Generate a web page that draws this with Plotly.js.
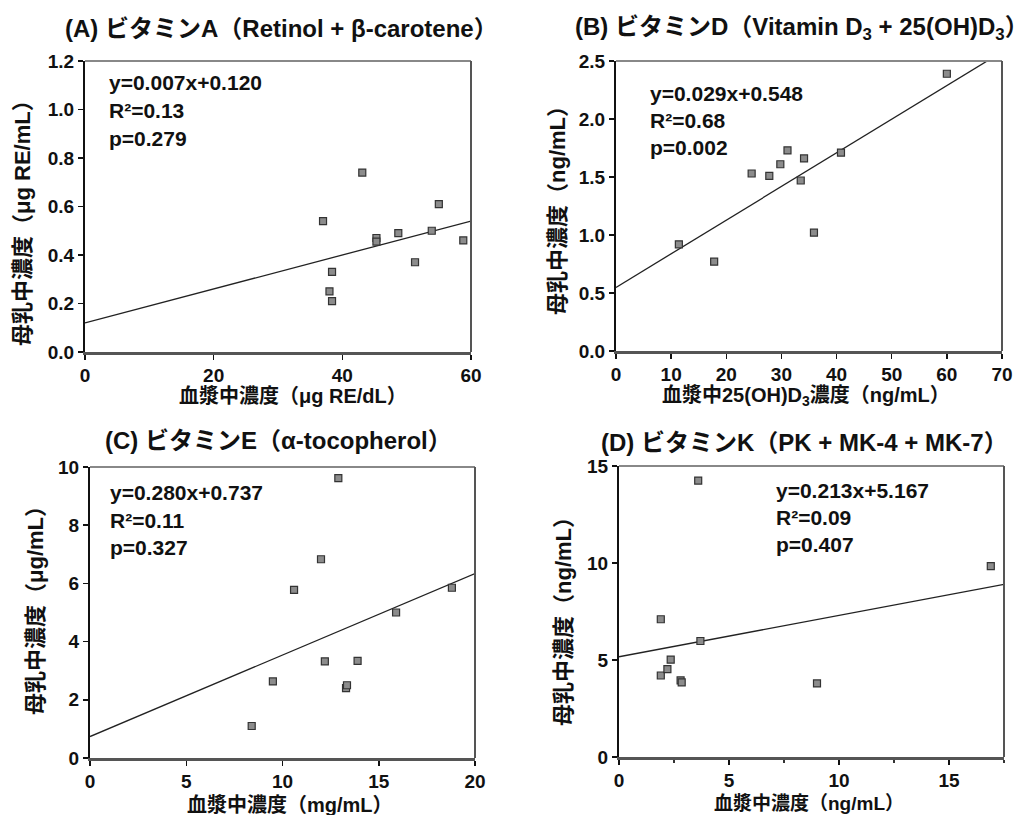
<!DOCTYPE html>
<html>
<head>
<meta charset="utf-8">
<script src="https://cdn.plot.ly/plotly-3.0.1.min.js"></script>
<style>html,body{margin:0;padding:0;background:#fff;}#chart{width:1033px;height:815px;}</style>
</head>
<body>
<div id="chart"></div>
<script>
// ---- Data ----
const panelTitles = [
  "(A) ビタミンA（Retinol + β-carotene）",
  "(B) ビタミンD（Vitamin D<sub>3</sub> + 25(OH)D<sub>3</sub>）",
  "(C) ビタミンE（α-tocopherol）",
  "(D) ビタミンK（PK + MK-4 + MK-7）"
];
const xTitles = ["血漿中濃度（μg RE/dL）", "血漿中25(OH)D<sub>3</sub>濃度（ng/mL）", "血漿中濃度（mg/mL）", "血漿中濃度（ng/mL）"];
const yTitles = ["母乳中濃度（μg RE/mL）", "母乳中濃度（ng/mL）", "母乳中濃度（μg/mL）", "母乳中濃度（ng/mL）"];

// Vitamin A
const aX = [37.0, 43.1, 55.0, 45.3, 45.3, 48.7, 53.9, 58.8, 51.3, 38.4, 38.0, 38.4];
const aY = [0.54, 0.74, 0.61, 0.47, 0.455, 0.49, 0.50, 0.46, 0.37, 0.33, 0.25, 0.21];
// Vitamin D
const bX = [11.4, 17.8, 24.6, 27.8, 29.8, 31.1, 33.5, 34.1, 35.9, 40.8, 60.0];
const bY = [0.92, 0.77, 1.53, 1.51, 1.61, 1.73, 1.47, 1.66, 1.02, 1.71, 2.39];
// Vitamin E
const cX = [8.4, 9.5, 10.6, 12.0, 12.2, 12.9, 13.3, 13.35, 13.9, 15.9, 18.8];
const cY = [1.10, 2.63, 5.78, 6.83, 3.32, 9.62, 2.40, 2.50, 3.34, 5.00, 5.85];
// Vitamin K
const dX = [1.9, 1.9, 2.2, 2.35, 2.8, 2.85, 3.6, 3.7, 9.0, 16.9];
const dY = [7.10, 4.20, 4.53, 5.02, 3.95, 3.85, 14.25, 5.98, 3.79, 9.84];

// Regression results printed on the chart
const slopes = [0.007, 0.029, 0.280, 0.213];
const intercepts = [0.120, 0.548, 0.737, 5.167];
const eqTexts = ["y=0.007x+0.120", "y=0.029x+0.548", "y=0.280x+0.737", "y=0.213x+5.167"];
const r2Texts = ["R²=0.13", "R²=0.68", "R²=0.11", "R²=0.09"];
const pTexts = ["p=0.279", "p=0.002", "p=0.327", "p=0.407"];

// Axis ranges / ticks
const xRanges = [[0, 60], [0, 70], [0, 20], [0, 17.5]];
const yRanges = [[0, 1.2], [0, 2.5], [0, 10], [0, 15]];
const xDticks = [20, 10, 5, 5];
const yDticks = [0.2, 0.5, 2, 5];
const yFormats = [".1f", ".1f", "d", "d"];

// ---- Layout helpers ----
const W = 1033, H = 815;
const px = v => v / W;
const py = v => 1 - v / H;
const FONT = "Liberation Sans, Arial, Noto Sans CJK JP, sans-serif";

// plot boxes in pixels [left, right, top, bottom]
const boxes = [[85, 471, 61, 352], [616, 1002, 61, 351], [90, 475, 467, 758], [619, 1004, 466, 757]];
const titlePos = [[281, 28], [802, 28], [278, 440], [804, 442]];
const xTitlePos = [[293, 396], [806, 396], [290, 805], [809, 803]];
const yTitlePos = [[22, 218], [557, 205], [35, 605], [563, 616]];
const statPos = [[107, [83, 111, 138]], [648, [93, 120, 147]], [108, [493, 520, 547]], [774, [490, 517, 544]]];

const xs = [aX, bX, cX, dX];
const ys = [aY, bY, cY, dY];

const traces = [];
const layout = {
  width: W, height: H,
  margin: {l: 0, r: 0, t: 0, b: 0},
  paper_bgcolor: "#fff", plot_bgcolor: "#fff",
  showlegend: false,
  font: {family: FONT, color: "#111", size: 18},
  annotations: [], shapes: []
};

function axisBase() {
  return {
    showgrid: false, zeroline: false, showline: true, linecolor: "#111", linewidth: 2,
    ticks: "outside", ticklen: 5, tickwidth: 1.5, tickcolor: "#111",
    tickfont: {family: FONT, size: 19, color: "#111", weight: 700},
    fixedrange: true
  };
}

for (let i = 0; i < 4; i++) {
  const sfx = i === 0 ? "" : String(i + 1);
  const xa = "x" + sfx, ya = "y" + sfx;
  const b = boxes[i];
  // regression line
  const lx = xRanges[i];
  traces.push({
    x: lx, y: lx.map(v => slopes[i] * v + intercepts[i]),
    xaxis: xa, yaxis: ya, mode: "lines", type: "scatter",
    line: {color: "#222", width: 1.3}, hoverinfo: "skip"
  });
  traces.push({
    x: xs[i], y: ys[i], xaxis: xa, yaxis: ya, mode: "markers", type: "scatter",
    marker: {symbol: "square", size: 7, color: "#8c8c8c", line: {color: "#333", width: 1.2}},
    cliponaxis: false
  });
  const xax = Object.assign(axisBase(), {
    domain: [px(b[0]), px(b[1])], anchor: ya, range: xRanges[i], dtick: xDticks[i], tick0: 0,
    linecolor: "#555", linewidth: 2.5
  });
  if (i === 3) xax.minor = {dtick: 2.5, ticks: "outside", ticklen: 3, tickwidth: 1.5, tickcolor: "#333"};
  layout["xaxis" + sfx] = xax;
  layout["yaxis" + sfx] = Object.assign(axisBase(), {
    domain: [py(b[3]), py(b[2])], anchor: xa, range: yRanges[i], dtick: yDticks[i], tick0: 0,
    tickformat: yFormats[i]
  });
  // top and right frame lines
  layout.shapes.push({type: "line", xref: xa + " domain", yref: ya + " domain", x0: 0, x1: 1, y0: 1, y1: 1, line: {color: "#888", width: 1.8}});
  layout.shapes.push({type: "line", xref: xa + " domain", yref: ya + " domain", x0: 1, x1: 1, y0: 0, y1: 1, line: {color: "#555", width: 2}});
  // panel title
  layout.annotations.push({
    text: "<b>" + panelTitles[i] + "</b>", xref: "paper", yref: "paper",
    x: px(titlePos[i][0]), y: py(titlePos[i][1]), xanchor: "center", yanchor: "middle",
    showarrow: false, font: {family: FONT, size: 24, color: "#111"}
  });
  // axis titles
  layout.annotations.push({
    text: "<b>" + xTitles[i] + "</b>", xref: "paper", yref: "paper",
    x: px(xTitlePos[i][0]), y: py(xTitlePos[i][1]), xanchor: "center", yanchor: "middle",
    showarrow: false, font: {family: FONT, size: i === 3 ? 19 : 20, color: "#111"}
  });
  layout.annotations.push({
    text: "<b>" + yTitles[i] + "</b>", xref: "paper", yref: "paper", textangle: -90,
    x: px(yTitlePos[i][0]), y: py(yTitlePos[i][1]), xanchor: "center", yanchor: "middle",
    showarrow: false, font: {family: FONT, size: 22, color: "#111"}
  });
  // regression stats
  const st = [eqTexts[i], r2Texts[i], pTexts[i]];
  for (let k = 0; k < 3; k++) {
    layout.annotations.push({
      text: "<b>" + st[k] + "</b>", xref: "paper", yref: "paper",
      x: px(statPos[i][0]), y: py(statPos[i][1][k]), xanchor: "left", yanchor: "middle",
      showarrow: false, font: {family: FONT, size: 21, color: "#111"}
    });
  }
}

Plotly.newPlot("chart", traces, layout, {displayModeBar: false, staticPlot: true});
</script>
</body>
</html>
